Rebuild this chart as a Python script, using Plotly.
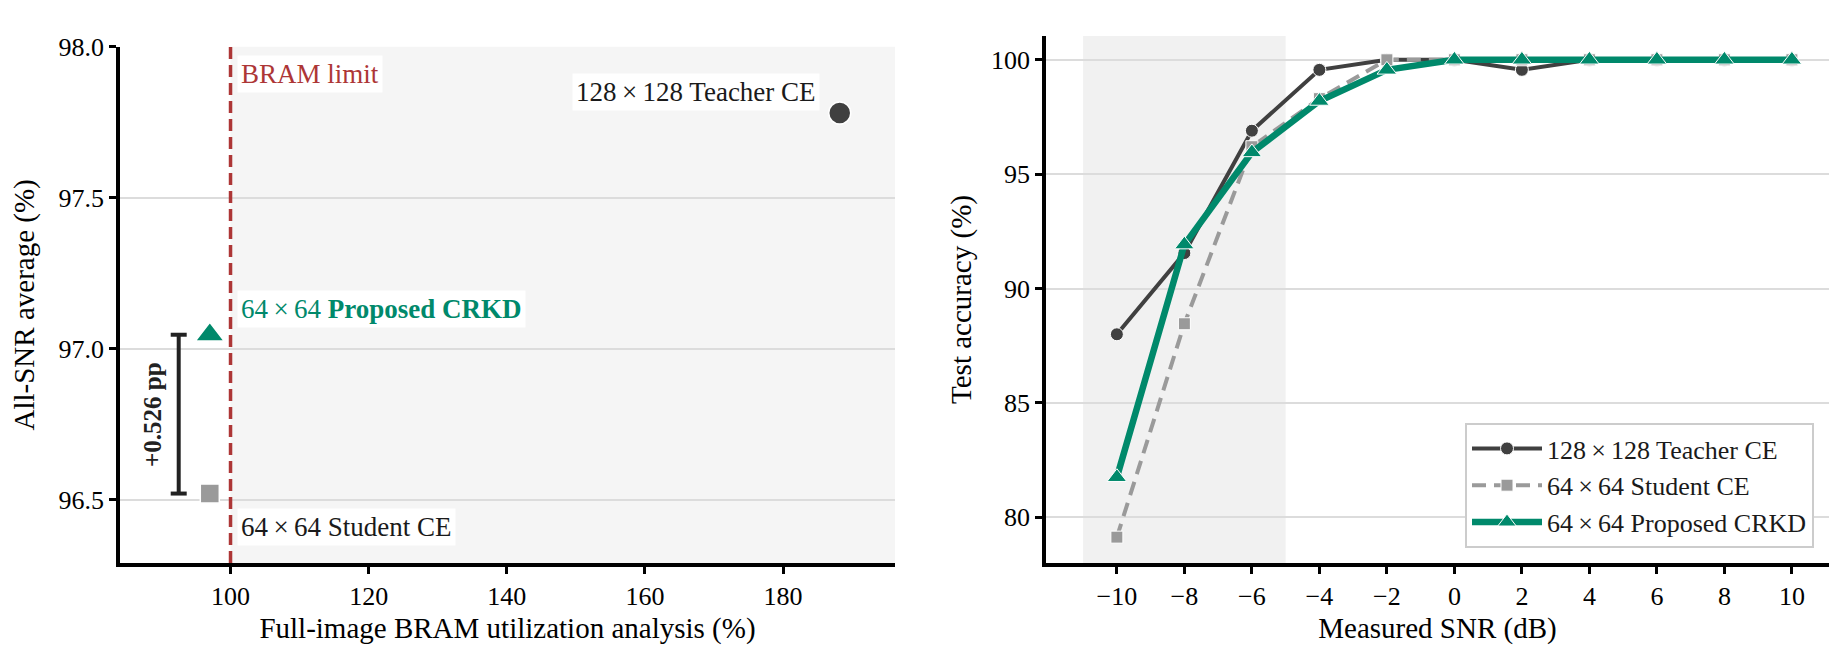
import plotly.graph_objects as go

# ---------------- data ----------------
# Left panel: BRAM utilisation vs all-SNR average accuracy
model_names = ["128\u2009×\u2009128 Teacher CE", "64\u2009×\u200964 Student CE", "64\u2009×\u200964 Proposed CRKD"]
bram_util = [188.2, 97.0, 97.0]
allsnr_avg = [97.78, 96.52, 97.046]
BRAM_LIMIT = 100

# Right panel: accuracy vs measured SNR
snr_db = [-10, -8, -6, -4, -2, 0, 2, 4, 6, 8, 10]
teacher_acc = [88.0, 91.55, 96.9, 99.56, 100, 100, 99.56, 100, 100, 100, 100]
student_acc = [79.13, 88.46, 96.2, 98.3, 100, 100, 100, 100, 100, 100, 100]
crkd_acc = [81.75, 91.92, 95.95, 98.2, 99.56, 100, 100, 100, 100, 100, 100]
low_snr_band = [-11, -5]

# ---------------- styles ----------------
FONT = "Liberation Serif"
C_TEACH = "#404040"
C_STUD = "#9a9a9a"
C_CRKD = "#00896b"
C_BRAM = "#ad3636"

# page body has an 8px default margin; the figure is sized to fit inside it
OFF = 8
W, H = 1847 - 2 * OFF, 660 - 2 * OFF
ML = 120 - OFF
MT = 36 - OFF
MB = H - (563 - OFF)
MR = W - (1829 - OFF)
PW = W - ML - MR
PH = H - MT - MB


def px_x(p):
    return (p - OFF - ML) / PW


def px_y(p):
    return (H - MB - (p - OFF)) / PH


fig = go.Figure()

# ---- left panel points ----
fig.add_trace(go.Scatter(
    x=[bram_util[0]], y=[allsnr_avg[0]], mode="markers", xaxis="x", yaxis="y",
    marker=dict(symbol="circle", size=22, color=C_TEACH, line=dict(color="white", width=1.5)),
    showlegend=False, hoverinfo="skip"))
fig.add_trace(go.Scatter(
    x=[bram_util[1]], y=[allsnr_avg[1]], mode="markers", xaxis="x", yaxis="y",
    marker=dict(symbol="square", size=19, color=C_STUD, line=dict(color="white", width=1.5)),
    showlegend=False, hoverinfo="skip"))
fig.add_trace(go.Scatter(
    x=[bram_util[2]], y=[allsnr_avg[2]], mode="markers", xaxis="x", yaxis="y",
    marker=dict(symbol="triangle-up", size=25, color=C_CRKD, line=dict(color="white", width=1.5)),
    showlegend=False, hoverinfo="skip"))

# ---- right panel lines ----
fig.add_trace(go.Scatter(
    x=snr_db, y=teacher_acc, mode="lines+markers", xaxis="x2", yaxis="y2",
    name=model_names[0],
    line=dict(color=C_TEACH, width=4),
    marker=dict(symbol="circle", size=13, color=C_TEACH, line=dict(color="white", width=1))))
fig.add_trace(go.Scatter(
    x=snr_db, y=student_acc, mode="lines+markers", xaxis="x2", yaxis="y2",
    name=model_names[1],
    line=dict(color=C_STUD, width=4, dash="14px,8px"),
    marker=dict(symbol="square", size=12, color=C_STUD, line=dict(color="white", width=1))))
fig.add_trace(go.Scatter(
    x=snr_db, y=crkd_acc, mode="lines+markers", xaxis="x2", yaxis="y2",
    name=model_names[2],
    line=dict(color=C_CRKD, width=6.5),
    marker=dict(symbol="triangle-up", size=17, color=C_CRKD, line=dict(color="white", width=1))))

# ---------------- axes ----------------
axis_common = dict(
    showline=True, linecolor="black", linewidth=3.5, mirror=False,
    ticks="outside", ticklen=7, tickwidth=3, tickcolor="black",
    tickfont=dict(family=FONT, size=26, color="black"),
    zeroline=False, automargin=False,
)
title_font = dict(family=FONT, size=29, color="black")

left_x_range = [84.0, 196.2]
left_y_range = [96.29, 98.0]
right_x_range = [-12.1, 11.1]
right_y_range = [78.0, 101.04]

fig.update_layout(
    xaxis=dict(domain=[0, px_x(895)], range=left_x_range, anchor="y",
               tickmode="array", tickvals=[100, 120, 140, 160, 180],
               showgrid=False,
               title=dict(text="Full-image BRAM utilization analysis (%)", font=title_font, standoff=9),
               **axis_common),
    yaxis=dict(domain=[0, px_y(46.7)], range=left_y_range, anchor="x",
               tickmode="array", tickvals=[96.5, 97.0, 97.5, 98.0], ticktext=["96.5", "97.0", "97.5", "98.0"],
               showgrid=True, gridcolor="#dcdcdc", gridwidth=1.5,
               title=dict(text="All-SNR average (%)", font=title_font, standoff=19),
               **axis_common),
    xaxis2=dict(domain=[px_x(1046), 1], range=right_x_range, anchor="y2",
                tickmode="array", tickvals=snr_db,
                showgrid=False,
                title=dict(text="Measured SNR (dB)", font=title_font, standoff=9),
                **axis_common),
    yaxis2=dict(domain=[0, 1], range=right_y_range, anchor="x2",
                tickmode="array", tickvals=[80, 85, 90, 95, 100],
                showgrid=True, gridcolor="#dcdcdc", gridwidth=1.5,
                title=dict(text="Test accuracy (%)", font=title_font, standoff=12),
                **axis_common),
)

# ---------------- shapes ----------------
shapes = [
    # region beyond the BRAM limit
    dict(type="rect", xref="x", yref="y domain", x0=BRAM_LIMIT, x1=left_x_range[1], y0=0, y1=1,
         fillcolor="#f5f5f5", line=dict(width=0), layer="below"),
    # low-SNR band on right panel
    dict(type="rect", xref="x2", yref="y2 domain", x0=low_snr_band[0], x1=low_snr_band[1], y0=0, y1=1,
         fillcolor="#f1f1f1", line=dict(width=0), layer="below"),
    # BRAM limit line
    dict(type="line", xref="x", yref="y domain", x0=BRAM_LIMIT, x1=BRAM_LIMIT, y0=0, y1=1,
         line=dict(color=C_BRAM, width=3.5, dash="12px,6px"), layer="above"),
]
# gain bracket between student and CRKD
bx = 92.5
shapes.append(dict(type="line", xref="x", yref="y", x0=bx, x1=bx, y0=allsnr_avg[1], y1=allsnr_avg[2],
                   line=dict(color="#222222", width=4)))
for yv in (allsnr_avg[1], allsnr_avg[2]):
    shapes.append(dict(type="line", xref="x", yref="y", xsizemode="pixel", xanchor=bx,
                       x0=-8, x1=8, y0=yv, y1=yv, line=dict(color="#222222", width=4)))
fig.update_layout(shapes=shapes)

# ---------------- annotations ----------------
ann_font = dict(family=FONT, size=27, color="#1a1a1a")
gain = allsnr_avg[2] - allsnr_avg[1]
annotations = [
    dict(x=BRAM_LIMIT, y=97.91, xref="x", yref="y", text="BRAM limit", showarrow=False,
         xanchor="left", yanchor="middle", xshift=6, bgcolor="white", borderpad=3,
         font=dict(family=FONT, size=27, color=C_BRAM)),
    dict(x=BRAM_LIMIT, y=97.13, xref="x", yref="y",
         text="64\u2009×\u200964 <b>Proposed CRKD</b>", showarrow=False,
         xanchor="left", yanchor="middle", xshift=6, bgcolor="white", borderpad=3,
         font=dict(family=FONT, size=27, color=C_CRKD)),
    dict(x=BRAM_LIMIT, y=96.41, xref="x", yref="y", text=model_names[1], showarrow=False,
         xanchor="left", yanchor="middle", xshift=6, bgcolor="white", borderpad=3,
         font=ann_font),
    dict(x=185.4, y=97.85, xref="x", yref="y", text=model_names[0], showarrow=False,
         xanchor="right", yanchor="middle", bgcolor="white", borderpad=3,
         font=ann_font),
    dict(x=88.6, y=(allsnr_avg[1] + allsnr_avg[2]) / 2, xref="x", yref="y",
         text=f"<b>+{gain:.3f} pp</b>", showarrow=False, textangle=-90,
         xanchor="center", yanchor="middle",
         font=dict(family=FONT, size=25, color="#222222")),
]
fig.update_layout(annotations=annotations)

fig.update_layout(
    width=W, height=H,
    margin=dict(l=ML, r=MR, t=MT, b=MB, autoexpand=False),
    paper_bgcolor="white", plot_bgcolor="white",
    font=dict(family=FONT, size=26, color="black"),
    legend=dict(
        x=px_x(1814), y=px_y(548), xanchor="right", yanchor="bottom",
        bgcolor="white", bordercolor="#cccccc", borderwidth=2,
        font=dict(family=FONT, size=26, color="#1a1a1a"),
        tracegroupgap=0, itemwidth=70,
    ),
    showlegend=True,
)

fig.write_html("out.html")
